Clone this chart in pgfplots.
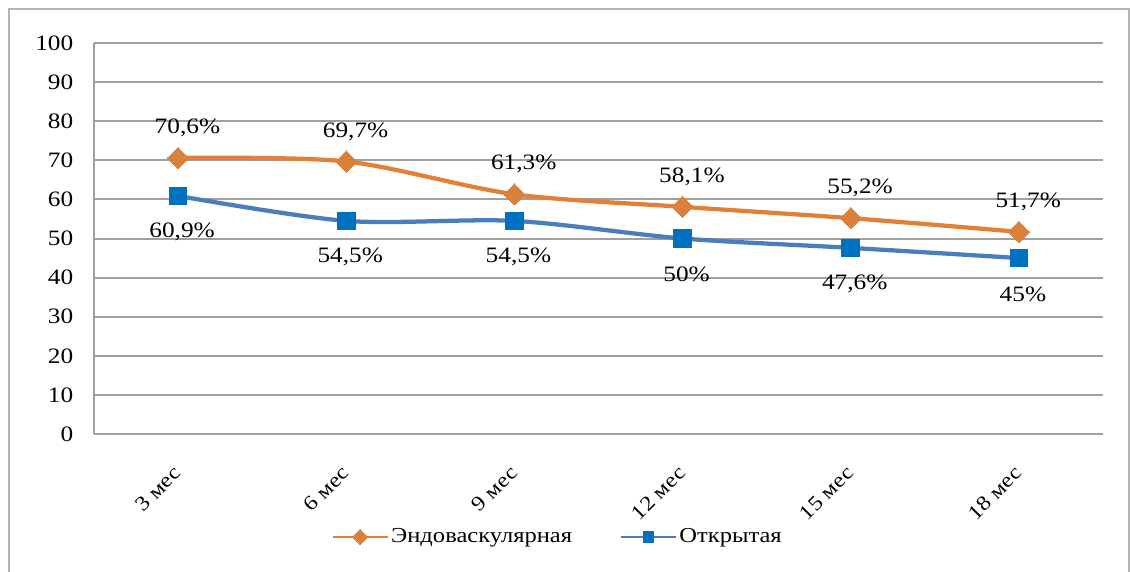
\documentclass[border=0pt]{standalone}
\usepackage{pgfplots}
\usepackage{pgfplotstable}
\pgfplotsset{compat=1.18}
\usepackage{fontspec}
\setmainfont{Liberation Serif}[FakeStretch=1.15]
\definecolor{orln}{RGB}{226,128,56}
\definecolor{ormk}{RGB}{218,128,58}
\definecolor{blln}{RGB}{74,126,187}
\definecolor{blmk}{RGB}{0,112,192}
\definecolor{grd}{RGB}{160,160,160}
\pgfplotstableread{
x y lab
0 70.6 70,6\%
1 69.7 69,7\%
2 61.3 61,3\%
3 58.1 58,1\%
4 55.2 55,2\%
5 51.7 51,7\%
}\endo
\pgfplotstableread{
x y lab
0 60.9 60,9\%
1 54.5 54,5\%
2 54.5 54,5\%
3 50 50\%
4 47.6 47,6\%
5 45 45\%
}\otkr
\begin{document}
\begin{tikzpicture}
\useasboundingbox (-70.5pt,-102.75pt) rectangle (777pt,325.5pt);
\draw[grd!80, line width=1.5pt] (-63.75pt,-110pt) -- (-63.75pt,318.75pt) -- (776.25pt,318.75pt) -- (776.25pt,-110pt);
\begin{axis}[
 at={(0,0)}, anchor=south west,
 scale only axis, width=756.75pt, height=293.25pt,
 xmin=-0.5, xmax=5.5, ymin=0, ymax=100,
 xtick={0,...,5}, xticklabels={3 мес,6 мес,9 мес,12 мес,15 мес,18 мес},
 ytick={0,10,...,100},
 axis x line*=bottom, axis y line*=left,
 axis line style={grd, line width=1.5pt, -},
 ymajorgrids, grid style={grd, line width=1.5pt},
 major tick length=0pt,
 clip=false,
 /pgf/number format/assume math mode=true,
 yticklabel style={font=\fontsize{16.5}{18}\selectfont, xshift=-12pt},
 xticklabel style={font=\fontsize{15.5}{17}\selectfont, anchor=east, xshift=2pt, yshift=-24pt, rotate=45},
 point meta=explicit symbolic,
 legend style={at={(0.46,-0.263)}, anchor=center, draw=none, fill=none, legend columns=2,
   font=\fontsize{16}{18}\selectfont,
   /tikz/every even column/.append style={column sep=34pt}},
 legend image code/.code={\draw[mark repeat=2,mark phase=2,#1,line width=1.5pt,mark size=4pt] plot coordinates {(0cm,0cm) (0.72cm,0cm) (1.44cm,0cm)};},
]
\addplot[orln, line width=3.2pt, smooth, tension=0.5, mark=square*, mark size=5.6pt,
  mark options={rotate=45, fill=ormk, draw=ormk, line width=0pt},
  nodes near coords, every node near coord/.append style={text=black, font=\fontsize{16.5}{18}\selectfont, anchor=center, yshift=22.5pt, xshift=7pt}]
  table[x=x, y=y, meta=lab] {\endo};
\addlegendentry{Эндоваскулярная}
\addplot[blln, line width=3.2pt, smooth, tension=0.5, mark=square*, mark size=6.6pt,
  mark options={fill=blmk, draw=blmk, line width=0pt},
  nodes near coords, every node near coord/.append style={text=black, font=\fontsize{16.5}{18}\selectfont, anchor=center, yshift=-27pt, xshift=3pt}]
  table[x=x, y=y, meta=lab] {\otkr};
\addlegendentry{Открытая}
\end{axis}
\end{tikzpicture}
\end{document}
